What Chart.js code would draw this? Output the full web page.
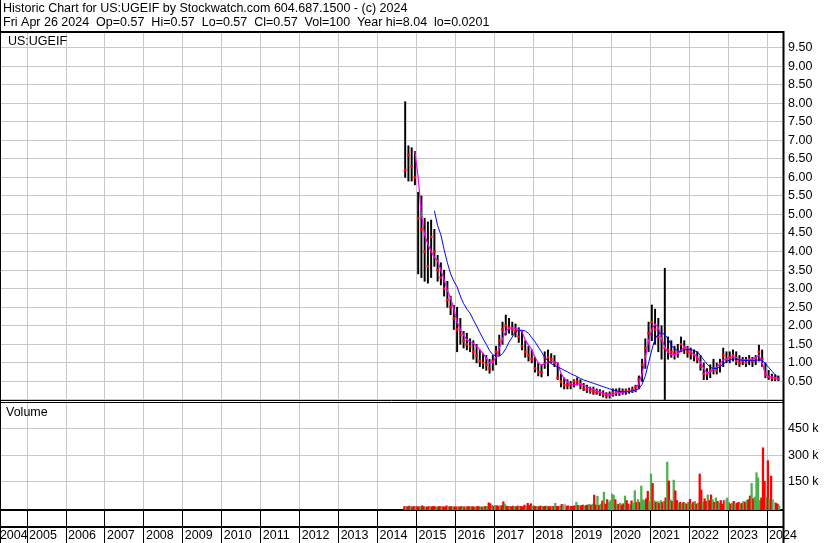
<!DOCTYPE html>
<html>
<head>
<meta charset="utf-8">
<script src="https://cdn.jsdelivr.net/npm/chart.js@4.4.1/dist/chart.umd.min.js"></script>
<style>
  html, body { margin: 0; padding: 0; background: #fff; }
</style>
</head>
<body>
<canvas id="myChart" width="830" height="543"></canvas>
<script>
// Header text
const titleLine = 'Historic Chart for US:UGEIF by Stockwatch.com 604.687.1500 - (c) 2024';
const quoteLine = 'Fri Apr 26 2024  Op=0.57  Hi=0.57  Lo=0.57  Cl=0.57  Vol=100  Year hi=8.04  lo=0.0201';
const symbol = 'US:UGEIF';

// Year labels along the bottom
const years = [2004, 2005, 2006, 2007, 2008, 2009, 2010, 2011, 2012, 2013, 2014,
               2015, 2016, 2017, 2018, 2019, 2020, 2021, 2022, 2023, 2024];
const xMin = 2004.33;   // ~May 2004
const xMax = 2024.41;   // Apr 26 2024
const firstMonth = 2014 + 8 / 12;   // price data starts Sep 2014

// Monthly high / low / close (Sep 2014 .. Apr 2024)
const high = [
  8.04, 6.85, 6.8, 6.7,
  5.6, 5.5, 4.9, 4.8, 4.85, 4.6, 3.9, 3.7, 3.5, 3.2, 2.8, 2.55,
  2.5, 2.2, 1.85, 1.8, 1.65, 1.6, 1.5, 1.35, 1.25, 1.2, 1.1, 1.2,
  1.45, 1.75, 2.1, 2.29, 2.2, 2.1, 2.05, 1.95, 1.85, 1.6, 1.45, 1.35,
  1.15, 1.0, 0.95, 1.3, 1.35, 1.25, 1.2, 1.0, 0.7, 0.6, 0.55, 0.5,
  0.55, 0.6, 0.55, 0.45, 0.4, 0.35, 0.35, 0.3, 0.28, 0.25, 0.2, 0.22,
  0.3, 0.3, 0.32, 0.3, 0.3, 0.32, 0.35, 0.4, 0.65, 1.1, 1.65, 2.1,
  2.56, 2.45, 2.2, 2.0, 3.55, 1.7, 1.6, 1.45, 1.5, 1.7, 1.6, 1.45,
  1.4, 1.35, 1.3, 1.2, 1.0, 0.85, 0.95, 1.1, 1.0, 1.1, 1.4, 1.3,
  1.3, 1.35, 1.3, 1.2, 1.15, 1.15, 1.2, 1.15, 1.2, 1.48, 1.35, 1.0,
  0.8, 0.7, 0.68, 0.65
];
const low = [
  6.0, 5.9, 5.9, 5.8,
  3.4, 3.3, 3.2, 3.15, 3.3, 3.6, 3.2, 3.1, 2.8, 2.5, 2.3, 1.9,
  1.3, 1.5, 1.4, 1.35, 1.3, 1.1, 1.0, 0.9, 0.85, 0.8, 0.72, 0.8,
  0.95, 1.2, 1.5, 1.75, 1.8, 1.75, 1.7, 1.55, 1.35, 1.15, 1.05, 1.0,
  0.75, 0.65, 0.62, 0.85, 0.65, 1.0, 0.9, 0.55, 0.35, 0.3, 0.3, 0.3,
  0.35, 0.4, 0.3, 0.25, 0.2, 0.18, 0.15, 0.15, 0.12, 0.08, 0.05, 0.05,
  0.1, 0.12, 0.12, 0.15, 0.15, 0.18, 0.2, 0.22, 0.3, 0.5, 0.85, 1.3,
  1.6, 1.5, 1.3, 1.1, 0.0, 1.1, 1.15, 1.1, 1.15, 1.3, 1.25, 1.15,
  1.1, 1.05, 1.0, 0.8, 0.55, 0.55, 0.6, 0.7, 0.7, 0.75, 0.9, 1.0,
  1.0, 1.05, 0.95, 0.9, 0.95, 0.9, 0.95, 0.9, 0.95, 1.05, 0.9, 0.6,
  0.55, 0.52, 0.52, 0.52
];
const close = [
  6.2, 6.6, 6.3, 6.0,
  4.9, 4.6, 4.0, 3.6, 4.4, 4.0, 3.5, 3.3, 3.0, 2.7, 2.5, 2.2,
  1.9, 1.75, 1.6, 1.5, 1.45, 1.3, 1.2, 1.05, 1.0, 0.95, 0.85, 1.05,
  1.3, 1.6, 1.9, 2.0, 1.95, 1.9, 1.85, 1.7, 1.45, 1.3, 1.2, 1.1,
  0.85, 0.75, 0.75, 1.15, 1.15, 1.1, 1.0, 0.6, 0.5, 0.4, 0.4, 0.42,
  0.5, 0.5, 0.4, 0.3, 0.28, 0.25, 0.22, 0.2, 0.2, 0.15, 0.12, 0.15,
  0.2, 0.22, 0.2, 0.22, 0.25, 0.25, 0.28, 0.35, 0.55, 0.95, 1.4, 1.8,
  2.1, 1.9, 1.7, 1.6, 1.4, 1.35, 1.3, 1.25, 1.3, 1.5, 1.4, 1.3,
  1.25, 1.2, 1.1, 0.9, 0.7, 0.7, 0.8, 0.85, 0.8, 0.95, 1.2, 1.1,
  1.15, 1.2, 1.05, 1.0, 1.05, 1.0, 1.1, 1.05, 1.1, 1.3, 1.1, 0.7,
  0.62, 0.6, 0.58, 0.57
];

// Moving averages (magenta = short, blue = long)
const maShort = [
  null, null, null, 6.7,
  6.0, 5.0, 4.45, 4.2, 4.0, 3.85, 3.75, 3.5, 3.25, 2.95, 2.75, 2.45,
  2.1, 1.9, 1.75, 1.62, 1.57, 1.53, 1.45, 1.36, 1.25, 1.13, 1.0, 1.02,
  1.15, 1.4, 1.65, 1.85, 1.93, 1.95, 1.94, 1.9, 1.84, 1.62, 1.48, 1.36,
  1.15, 1.0, 0.94, 0.98, 1.03, 1.04, 1.03, 1.0, 0.72, 0.58, 0.48, 0.43,
  0.4, 0.43, 0.45, 0.4, 0.35, 0.32, 0.28, 0.25, 0.22, 0.19, 0.16, 0.14,
  0.15, 0.18, 0.2, 0.21, 0.22, 0.23, 0.24, 0.26, 0.45, 0.7, 1.15, 1.6,
  1.9, 2.05, 1.95, 1.65, 1.42, 1.28, 1.23, 1.22, 1.25, 1.32, 1.45, 1.4,
  1.3, 1.23, 1.17, 1.0, 0.85, 0.73, 0.76, 0.83, 0.89, 0.98, 1.08, 1.11,
  1.14, 1.16, 1.15, 1.1, 1.08, 1.08, 1.09, 1.11, 1.15, 1.21, 1.0, 0.68,
  0.64, 0.62, 0.6, 0.58
];
const maLong = [
  null, null, null, null,
  null, null, null, null, null, 5.1, 4.7, 4.45, 4.05, 3.7, 3.4, 3.2,
  3.05, 2.8, 2.6, 2.45, 2.34, 2.16, 2.0, 1.82, 1.65, 1.5, 1.33, 1.22,
  1.19, 1.18, 1.25, 1.38, 1.56, 1.7, 1.84, 1.88, 1.88, 1.86, 1.8, 1.68,
  1.57, 1.43, 1.3, 1.15, 1.05, 0.98, 0.93, 0.89, 0.85, 0.8, 0.76, 0.71,
  0.67, 0.63, 0.58, 0.54, 0.51, 0.48, 0.45, 0.42, 0.39, 0.36, 0.33, 0.3,
  0.27, 0.25, 0.23, 0.22, 0.22, 0.23, 0.25, 0.27, 0.3, 0.42, 0.65, 1.0,
  1.35, 1.65, 1.78, 1.82, 1.76, 1.65, 1.47, 1.38, 1.33, 1.3, 1.35, 1.37,
  1.36, 1.33, 1.3, 1.2, 1.08, 0.97, 0.88, 0.85, 0.85, 0.9, 0.97, 1.04,
  1.08, 1.11, 1.1, 1.08, 1.07, 1.06, 1.06, 1.06, 1.07, 1.08, 1.07, 0.98,
  0.88, 0.78, 0.68, 0.6
];

// Volume in thousands, twice a month (Sep 2014 .. Apr 2024)
const volume = [
  6, 4, 5, 8, 5, 4, 6, 5,
  5, 4, 6, 10, 5, 4, 3, 6, 4, 5, 7, 4, 3, 5, 6, 4, 5, 3, 10, 4, 5, 6, 3, 5,
  4, 5, 3, 6, 5, 4, 3, 5, 6, 4, 5, 3, 4, 6, 5, 4, 3, 5, 7, 6, 27, 22, 12, 8,
  12, 10, 8, 9, 11, 33, 20, 8, 6, 7, 5, 8, 6, 5, 9, 7, 6, 5, 14, 8, 24, 12, 22, 10,
  8, 6, 7, 5, 9, 6, 5, 8, 7, 6, 5, 8, 6, 24, 7, 6, 9, 18, 15, 20, 8, 10, 6, 7,
  8, 10, 30, 12, 9, 11, 14, 10, 12, 15, 18, 13, 20, 71, 15, 65, 12, 20, 38, 88, 20, 45, 30, 40,
  77, 70, 45, 20, 18, 25, 15, 22, 66, 40, 20, 15, 38, 25, 96, 30, 45, 30, 123, 45, 40, 50, 93, 35,
  192, 138, 40, 30, 35, 25, 40, 30, 35, 55, 260, 152, 45, 35, 157, 96, 40, 25, 30, 20, 30, 25, 20, 30,
  47, 20, 30, 35, 20, 25, 192, 100, 30, 50, 35, 72, 40, 72, 45, 30, 55, 35, 25, 40, 20, 40, 45, 55,
  30, 20, 25, 35, 20, 25, 30, 20, 25, 35, 30, 40, 45, 66, 138, 50, 60, 199, 170, 40, 55, 342, 150, 60,
  268, 50, 180, 45, 30, 25, 20, 10
];
// u = up day, d = down day, n = unchanged (one letter per volume bar)
const volDir =
  'dudduddu' +
  'ddudduddudddudduddduddud' +
  'duddududdudduddudududdud' +
  'uddudduddudduddudddudddu' +
  'dduddudduddududdudunddud' +
  'ddududduddududdudududduu' +
  'uudududdudduduududuuuddu' +
  'ududududududududdudududu' +
  'dudududdudduddudududddnu' +
  'udududdudududduduuuudddu' +
  'dudunddu';

const months = high.map((_, i) => firstMonth + (i + 0.5) / 12);
const halfMonths = volume.map((_, i) => firstMonth + (i + 0.5) / 24);

// Axis ranges
const priceMin = -0.027, priceMax = 9.892;
const volMin = -14.3, volMax = 609.7;

const fontFamily = '"Liberation Sans", Arial, sans-serif';
Chart.defaults.font.family = fontFamily;
Chart.defaults.font.size = 12.5;
Chart.defaults.color = '#000';

const gridGray = '#c8c8c8';
const volColors = { u: '#4cb04c', d: '#ff0000', n: '#b4b4b4' };

// Frames, header and panel captions
const frames = {
  id: 'frames',
  afterDraw(chart) {
    const { ctx, chartArea: a, scales } = chart;
    const right = a.right;
    const yPriceBottom = Math.round(scales.y.bottom);
    ctx.save();
    ctx.strokeStyle = '#000';
    ctx.lineWidth = 2;
    ctx.beginPath();
    ctx.moveTo(0, 32); ctx.lineTo(right + 1, 32);              // under header
    ctx.moveTo(right + 0.5, 31); ctx.lineTo(right + 0.5, 543); // right axis line
    ctx.moveTo(0, 527); ctx.lineTo(right, 527);                // year band line
    ctx.stroke();
    ctx.lineWidth = 1;
    ctx.beginPath();
    ctx.moveTo(0.5, 0); ctx.lineTo(0.5, 543);                  // left edge
    ctx.moveTo(0, yPriceBottom - 0.5); ctx.lineTo(right, yPriceBottom - 0.5);
    ctx.moveTo(0, yPriceBottom + 1.5); ctx.lineTo(right, yPriceBottom + 1.5);
    ctx.stroke();

    ctx.fillStyle = '#000';
    ctx.font = '12.5px ' + fontFamily;
    ctx.textBaseline = 'middle';
    ctx.textAlign = 'left';
    ctx.fillText(titleLine, 3, 8.5);
    ctx.fillText(quoteLine, 3, 22.5);
    ctx.fillText(symbol, 8, 42);
    ctx.fillText('Volume', 6, 413);
    ctx.restore();
  }
};

const ctx = document.getElementById('myChart').getContext('2d');
const myChart = new Chart(ctx, {
  type: 'bar',
  data: {
    datasets: [
      {
        type: 'line',
        label: 'MA long',
        data: maLong.map((v, i) => ({ x: months[i], y: v })),
        borderColor: '#0000ff',
        borderWidth: 1,
        pointRadius: 0,
        yAxisID: 'y',
        order: 1
      },
      {
        type: 'line',
        label: 'MA short',
        data: maShort.map((v, i) => ({ x: months[i], y: v })),
        borderColor: '#ff00ff',
        borderWidth: 1.2,
        pointRadius: 0,
        yAxisID: 'y',
        order: 2
      },
      {
        type: 'line',
        label: 'Close',
        data: close.map((v, i) => ({ x: months[i], y: v })),
        showLine: false,
        pointStyle: 'rect',
        pointRadius: 1.8,
        pointBorderWidth: 0,
        pointBackgroundColor: '#ff0000',
        yAxisID: 'y',
        order: 3
      },
      {
        type: 'bar',
        label: 'Range',
        data: months.map((t, i) => ({ x: t, y: [low[i], high[i]] })),
        backgroundColor: '#000',
        barThickness: 1.3,
        grouped: false,
        yAxisID: 'y',
        order: 4
      },
      {
        type: 'bar',
        label: 'Volume',
        data: halfMonths.map((t, i) => ({ x: t, y: volume[i] })),
        backgroundColor: c => volColors[volDir[c.dataIndex]] || volColors.d,
        barThickness: 1.6,
        grouped: false,
        base: volMin,
        yAxisID: 'yv',
        order: 5
      }
    ]
  },
  options: {
    responsive: false,
    animation: false,
    events: [],
    layout: { autoPadding: false, padding: { top: 33, left: 1, right: 0, bottom: 0 } },
    plugins: { legend: { display: false }, tooltip: { enabled: false }, title: { display: false } },
    scales: {
      x: {
        type: 'linear',
        position: 'bottom',
        offset: false,
        min: xMin,
        max: xMax,
        // the first year starts before the left edge; its label sits at the edge
        afterBuildTicks: s => { s.ticks = years.map(y => ({ value: y < xMin ? xMin - 0.08 : y })); },
        afterFit: s => { s.height = 33; s.paddingLeft = 0; s.paddingRight = 0; },
        grid: { offset: false, color: gridGray, lineWidth: 1, drawTicks: true, tickLength: 33, tickColor: '#000', tickWidth: 1 },
        border: { display: true, color: '#000', width: 2 },
        ticks: {
          align: 'start',
          padding: -15,
          labelOffset: 2,
          autoSkip: false,
          maxRotation: 0,
          color: '#000',
          callback: v => String(Math.round(v))
        }
      },
      y: {
        position: 'right',
        stack: 'panels',
        stackWeight: 368,
        min: priceMin,
        max: priceMax,
        afterFit: s => { s.width = 47; },
        grid: { color: gridGray, drawTicks: false },
        border: { display: false },
        ticks: {
          stepSize: 0.5,
          includeBounds: false,
          autoSkip: false,
          padding: 5,
          color: '#000',
          callback: v => v > 0 ? v.toFixed(2) : ''
        }
      },
      yv: {
        position: 'right',
        stack: 'panels',
        stackWeight: 109,
        min: volMin,
        max: volMax,
        afterFit: s => { s.width = 47; },
        grid: {
          color: c => (c.tick && c.tick.value > 0 && c.tick.value < 600) ? gridGray : 'rgba(0,0,0,0)',
          drawTicks: false
        },
        border: { display: false },
        ticks: {
          stepSize: 150,
          includeBounds: false,
          autoSkip: false,
          padding: 5,
          color: '#000',
          callback: v => (v > 0 && v < 600) ? v + ' k' : ''
        }
      }
    }
  },
  plugins: [frames]
});
</script>
</body>
</html>
